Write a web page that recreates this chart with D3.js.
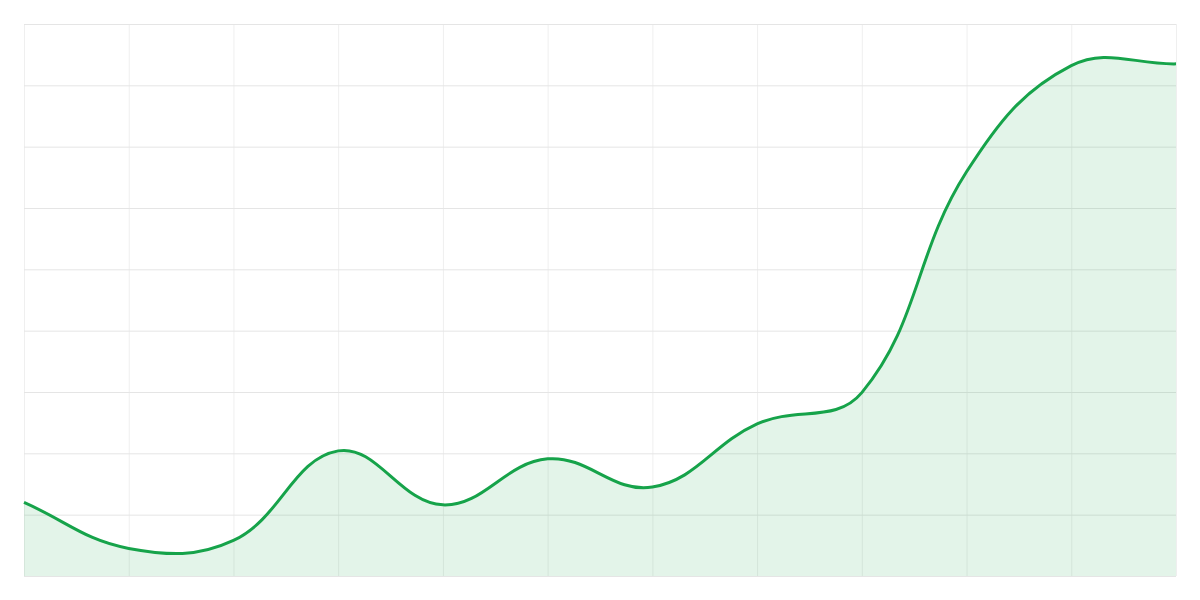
<!DOCTYPE html>
<html>
<head>
<meta charset="utf-8">
<script src="https://cdn.jsdelivr.net/npm/d3@7"></script>
<style>
  body { margin: 0; background: #fff; }
  svg { display: block; }
</style>
</head>
<body>
<svg id="chart" width="1200" height="600"></svg>
<script>
// points along the x axis (no labels shown in the chart)
const categories = ['1', '2', '3', '4', '5', '6', '7', '8', '9', '10', '11', '12'];
const values = [12, 4.5, 5.8, 20.4, 11.6, 19.1, 14.5, 24.8, 29.9, 65.9, 83.2, 83.5];
const yTicks = [0, 10, 20, 30, 40, 50, 60, 70, 80, 90];

const width = 1200;
const height = 600;
const margin = {top: 24, right: 24, bottom: 24, left: 24};
const innerWidth = width - margin.left - margin.right;
const innerHeight = height - margin.top - margin.bottom;

// spline with distance-weighted control points (tension 0.4)
function TensionCurve(context, t) {
    this._context = context;
    this._t = t;
}
TensionCurve.prototype = {
    areaStart() { this._line = 0; },
    areaEnd() { this._line = NaN; },
    lineStart() { this._pts = []; },
    point(x, y) { this._pts.push([+x, +y]); },
    lineEnd() {
        const p = this._pts, n = p.length, c = this._context, t = this._t;
        if (n) {
            if (this._line) c.lineTo(p[0][0], p[0][1]);
            else c.moveTo(p[0][0], p[0][1]);
            const cpIn = [], cpOut = [];
            for (let i = 0; i < n; i++) {
                const prev = p[Math.max(i - 1, 0)], cur = p[i], next = p[Math.min(i + 1, n - 1)];
                const d01 = Math.hypot(cur[0] - prev[0], cur[1] - prev[1]);
                const d12 = Math.hypot(next[0] - cur[0], next[1] - cur[1]);
                let s01 = d01 / (d01 + d12), s12 = d12 / (d01 + d12);
                if (isNaN(s01)) s01 = 0;
                if (isNaN(s12)) s12 = 0;
                const fa = t * s01, fb = t * s12;
                cpIn.push([cur[0] - fa * (next[0] - prev[0]), cur[1] - fa * (next[1] - prev[1])]);
                cpOut.push([cur[0] + fb * (next[0] - prev[0]), cur[1] + fb * (next[1] - prev[1])]);
            }
            for (let i = 1; i < n; i++) {
                c.bezierCurveTo(cpOut[i - 1][0], cpOut[i - 1][1], cpIn[i][0], cpIn[i][1], p[i][0], p[i][1]);
            }
        }
        if (this._line || (this._line !== 0 && n === 1)) c.closePath();
        this._line = 1 - this._line;
    }
};
const curve = context => new TensionCurve(context, 0.4);

const svg = d3.select('#chart');

const x = d3.scalePoint()
    .domain(categories)
    .range([0, innerWidth]);

const y = d3.scaleLinear()
    .domain([0, 90])
    .range([innerHeight, 0]);

const g = svg.append('g')
    .attr('transform', `translate(${margin.left},${margin.top})`);

// vertical grid
g.append('g')
    .call(d3.axisBottom(x).tickSize(innerHeight).tickFormat(''))
    .call(a => a.select('.domain').remove())
    .call(a => a.selectAll('line').attr('stroke', '#efefef').attr('stroke-width', 1));

// horizontal grid
g.append('g')
    .call(d3.axisLeft(y).tickValues(yTicks).tickSize(-innerWidth).tickFormat(''))
    .call(a => a.select('.domain').remove())
    .call(a => a.selectAll('line').attr('stroke', '#e5e5e5').attr('stroke-width', 1));

const area = d3.area()
    .curve(curve)
    .x((d, i) => x(categories[i]))
    .y0(y(0))
    .y1(d => y(d));

const line = d3.line()
    .curve(curve)
    .x((d, i) => x(categories[i]))
    .y(d => y(d));

g.append('path')
    .datum(values)
    .attr('fill', 'rgba(22,163,74,0.12)')
    .attr('d', area);

g.append('path')
    .datum(values)
    .attr('fill', 'none')
    .attr('stroke', '#16a34a')
    .attr('stroke-width', 3)
    .attr('stroke-linejoin', 'round')
    .attr('d', line);
</script>
</body>
</html>
